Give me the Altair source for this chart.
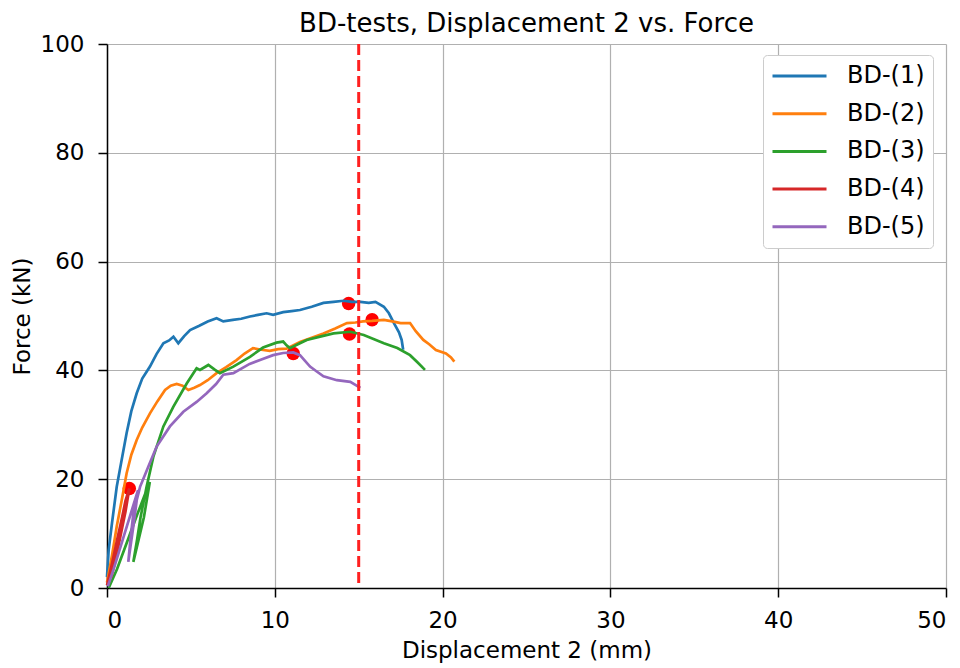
import altair as alt
import pandas as pd

# ---- data ----
series_names = ["BD-(1)", "BD-(2)", "BD-(3)", "BD-(4)", "BD-(5)"]
series_colors = ["#1f77b4", "#ff7f0e", "#2ca02c", "#d62728", "#9467bd"]

bd1_x = [0, 0.1, 0.3, 0.58, 0.87, 1.17, 1.45, 1.77, 2.1, 2.56, 2.95, 3.36, 3.7, 3.96, 4.25,
         4.6, 4.95, 5.5, 6.0, 6.53, 6.93, 7.5, 8.0, 8.52, 9.0, 9.51, 9.9, 10.5, 11.0, 11.5,
         12.2, 12.9, 13.5, 14.1, 14.6, 15.1, 15.6, 16.0, 16.5, 16.8, 17.1, 17.4, 17.56, 17.65]
bd1_f = [2, 7, 12, 18.6, 23.5, 28.5, 32.5, 35.8, 38.5, 40.7, 43, 45, 45.5, 46.2, 45,
         46.3, 47.4, 48.2, 49, 49.6, 49, 49.3, 49.5, 49.9, 50.2, 50.5, 50.2, 50.7, 50.9, 51.1,
         51.7, 52.4, 52.6, 52.8, 52.6, 52.6, 52.4, 52.6, 51.7, 50.5, 48.7, 47, 45.6, 43.8]

bd2_x = [0, 0.3, 0.58, 0.9, 1.17, 1.45, 1.77, 2.1, 2.56, 3.0, 3.46, 3.8, 4.15, 4.5, 4.85,
         5.2, 5.54, 6.0, 6.53, 7.1, 7.72, 8.2, 8.7, 9.2, 9.7, 10.2, 10.7, 11.5, 12.2, 12.9,
         13.6, 14.3, 14.8, 15.26, 15.8, 16.5, 17.0, 17.5, 18.06, 18.4, 18.85, 19.2, 19.6,
         20.2, 20.5, 20.7]
bd2_f = [1, 6, 11.3, 16.5, 21.1, 24.5, 27.2, 29.5, 32.1, 34.3, 36.4, 37.2, 37.5, 37.2, 36.4,
         36.8, 37.3, 38.2, 39.5, 40.6, 41.9, 43.1, 44.1, 43.8, 43.6, 43.9, 44, 45.2, 46.0, 46.8,
         47.7, 48.7, 48.8, 49, 49.1, 49.3, 49.0, 48.7, 48.7, 47.2, 45.6, 44.8, 43.75,
         43.1, 42.4, 41.6]

bd3_x = [0.1, 0.6, 1.2, 1.8, 2.3, 2.55, 2.2, 1.57, 1.8, 2.0, 2.36, 2.76, 3.36, 3.95, 4.75,
         5.34, 5.54, 6.04, 6.44, 6.73, 7.53, 8.52, 9.3, 10.1, 10.5, 10.7, 10.9, 11.5, 11.9,
         12.7, 13.5, 14.5, 15.3, 16.5, 17.3, 18.06, 18.5, 18.95]
bd3_f = [0, 3.5, 8.5, 13.5, 17.5, 19.5, 13, 4.8, 9, 13, 18.6, 24.1, 29.7, 33.3, 37.6,
         40.4, 40.1, 41, 40.1, 39.5, 40.7, 42.5, 44.2, 45.1, 45.3, 44.6, 44.1, 45, 45.6,
         46.2, 46.8, 47.1, 46.5, 45, 44.1, 42.8, 41.5, 40.1]

bd4_x = [0, 0.3, 0.6, 0.9, 1.1, 1.33, 1.1, 0.8, 0.5, 0.25, 0.5, 0.8, 1.1, 1.3]
bd4_f = [0.5, 4.5, 8.8, 13, 16, 18.3, 14, 9.5, 5, 2, 6.5, 11, 15.5, 18]

bd5_x = [0.05, 0.4, 0.8, 1.2, 1.6, 1.85, 1.6, 1.27, 1.4, 1.57, 1.97, 2.46, 2.96, 3.75, 4.55,
         5.34, 5.94, 6.5, 6.93, 7.53, 8.5, 9.2, 9.9, 10.5, 11.1, 11.5, 12.1, 12.5, 12.9,
         13.7, 14.5, 15.1]
bd5_f = [0.3, 3.5, 7.5, 11.5, 15.5, 18, 12, 4.8, 9, 13.7, 18.6, 22.3, 26, 29.7, 32.4,
         34.2, 35.8, 37.5, 39.2, 39.5, 41.2, 42, 42.8, 43.2, 43.3, 42.8, 40.7, 39.8, 38.9,
         38.2, 37.9, 36.8]

max_x = [14.4, 15.8, 14.45, 1.33, 11.1]
max_f = [52.3, 49.3, 46.7, 18.3, 43.1]

cutoff_x = [15]

x_ticks = [0, 10, 20, 30, 40, 50]
y_ticks = [0, 20, 40, 60, 80, 100]

# ---- build tables ----
rows = []
for name, xs, fs in zip(series_names,
                        [bd1_x, bd2_x, bd3_x, bd4_x, bd5_x],
                        [bd1_f, bd2_f, bd3_f, bd4_f, bd5_f]):
    for i, (xv, fv) in enumerate(zip(xs, fs)):
        rows.append({"series": name, "idx": i, "disp": xv, "force": fv})
lines_df = pd.DataFrame(rows)
dots_df = pd.DataFrame({"disp": max_x, "force": max_f})
rule_df = pd.DataFrame({"disp": cutoff_x})

FONT = "DejaVu Sans"

x_scale = alt.Scale(domain=[0, 50], nice=False, zero=False)
y_scale = alt.Scale(domain=[0, 100], nice=False, zero=False)

x_axis = alt.Axis(values=x_ticks, title="Displacement 2 (mm)", labelPadding=12, titlePadding=7)
y_axis = alt.Axis(values=y_ticks, title="Force (kN)", labelPadding=14, titlePadding=6)

dots = alt.Chart(dots_df).mark_circle(size=180, color="#ff0000", opacity=1).encode(
    x=alt.X("disp:Q", scale=x_scale, axis=x_axis),
    y=alt.Y("force:Q", scale=y_scale, axis=y_axis),
)

lines = alt.Chart(lines_df).mark_line(strokeWidth=2.7).encode(
    x=alt.X("disp:Q", scale=x_scale, axis=x_axis),
    y=alt.Y("force:Q", scale=y_scale, axis=y_axis),
    color=alt.Color("series:N",
                    scale=alt.Scale(domain=series_names, range=series_colors),
                    legend=alt.Legend(title=None, orient="none", legendX=656, legendY=11)),
    order=alt.Order("idx:Q"),
    detail="series:N",
)

rule = alt.Chart(rule_df).mark_rule(color="#ff2020", strokeWidth=3, strokeDash=[11, 5]).encode(
    x=alt.X("disp:Q", scale=x_scale, axis=x_axis),
)

chart = alt.layer(dots, lines, rule).properties(
    width=839,
    height=544,
    title=alt.TitleParams("BD-tests, Displacement 2 vs. Force", fontSize=26, font=FONT,
                          fontWeight="normal", color="black", anchor="middle", offset=-4),
    padding={"left": 99, "top": 36, "right": 6, "bottom": 78},
    autosize=alt.AutoSizeParams(type="none"),
).configure_view(
    stroke=None
).configure_axis(
    labelFont=FONT, titleFont=FONT, labelFontSize=23, titleFontSize=23,
    labelColor="black", titleColor="black", titleFontWeight="normal",
    domainColor="black", domainWidth=1.5, tickColor="black", tickWidth=1.5, tickSize=9,
    gridColor="#b0b0b0", gridWidth=1.2,
).configure_legend(
    labelFont=FONT, labelFontSize=24, labelColor="black",
    symbolType="stroke", symbolSize=2916, symbolStrokeWidth=3, clipHeight=26,
    rowPadding=11.7, labelOffset=19, padding=8,
    strokeColor="#cccccc", fillColor="white", cornerRadius=4,
)

chart.save("out.html", embed_options={"renderer": "svg", "actions": False})
